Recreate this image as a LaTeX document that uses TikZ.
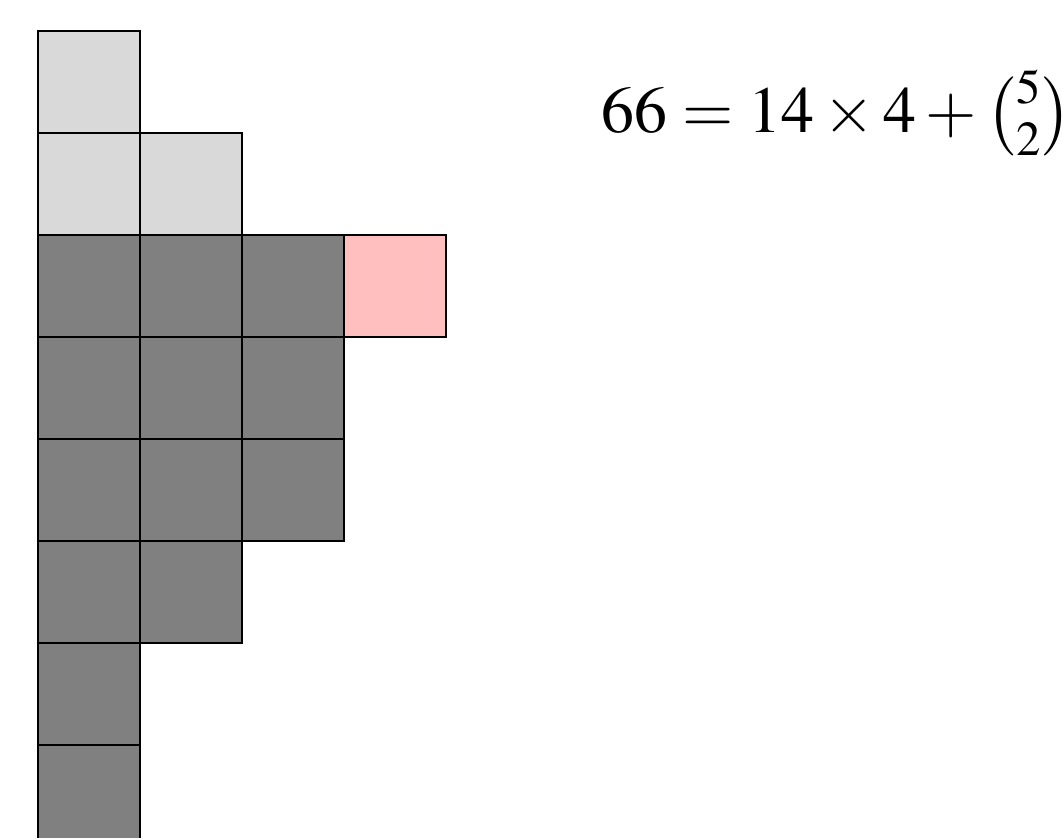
\documentclass[tikz,border=0pt]{standalone}
\usepackage{amsmath,amssymb}
\usepackage{mathptmx}
\usepackage{tikz}
\usetikzlibrary{positioning}

\definecolor{lightcell}{RGB}{217,217,217}
\definecolor{darkcell}{RGB}{128,128,128}
\definecolor{pinkcell}{RGB}{255,191,191}

\tikzset{
    cell/.style={draw, rectangle, minimum size=1cm, inner sep=0pt, line width=0.55pt},
    light/.style={cell, fill=lightcell},
    dark/.style={cell, fill=darkcell},
    pink/.style={cell, fill=pinkcell}
}

\begin{document}
\begin{tikzpicture}
    \useasboundingbox (-0.3725,0.098) rectangle (10.039,8.304);

    % Light cells
    \node[light] (l1) at (0.5,7.5) {};
    \node[light] (l2) at (0.5,6.5) {};
    \node[light] (l3) at (1.5,6.5) {};

    % Dark cells
    \node[dark] (d1) at (0.5,5.5) {};
    \node[dark] (d2) at (1.5,5.5) {};
    \node[dark] (d3) at (2.5,5.5) {};
    \node[dark] (d4) at (0.5,4.5) {};
    \node[dark] (d5) at (1.5,4.5) {};
    \node[dark] (d6) at (2.5,4.5) {};
    \node[dark] (d7) at (0.5,3.5) {};
    \node[dark] (d8) at (1.5,3.5) {};
    \node[dark] (d9) at (2.5,3.5) {};
    \node[dark] (d10) at (0.5,2.5) {};
    \node[dark] (d11) at (1.5,2.5) {};
    \node[dark] (d12) at (0.5,1.5) {};
    \node[dark] (d13) at (0.5,0.5) {};

    % Pink cell
    \node[pink] (p1) at (3.5,5.5) {};

    % Formula
    \node[anchor=base west, inner sep=0pt, font=\fontsize{18.4}{22}\selectfont] (eq) at (5.52,7) {$66 = 14 \times 4 + \binom{5}{2}$};
\end{tikzpicture}
\end{document}
